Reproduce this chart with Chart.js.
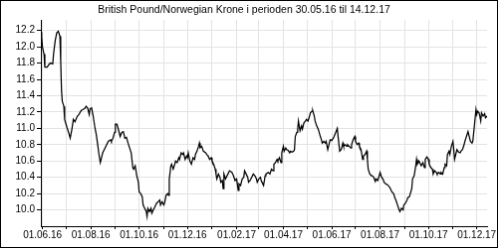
<!DOCTYPE html>
<html>
<head>
<meta charset="utf-8">
<script src="https://cdn.jsdelivr.net/npm/chart.js@4"></script>
<style>
	body{margin:0;background:#fff;}
	#chart{display:block;border:1px solid #000;}
</style>
</head>
<body>
<canvas id="chart" width="498" height="248"></canvas>
<script>
/*	GBP/NOK 30.05.16 - 14.12.17
*/

const title = "British Pound/Norwegian Krone i perioden 30.05.16 til 14.12.17",
	startDate = "30.05.16",
	endDate = "14.12.17";

//days after startDate
const days = [0,1,2,3,4,5,8,10,12,15,16,18,20,22,24,25,26,27,29,30,33,35,37,39,41,43,46,48,51,53,56,57,59,61,62,64,66,68,70,72,73,75,77,78,80,83,85,88,89,91,93,94,96,98,100,102,104,106,108,110,112,114,116,117,119,121,123,124,126,128,129,131,133,134,135,137,139,140,142,144,146,148,150,151,153,155,156,158,160,161,162,164,165,167,169,170,172,174,175,177,179,180,182,184,185,186,188,190,192,194,195,197,199,200,201,203,205,206,208,210,211,213,215,216,218,220,221,222,224,226,227,229,230,231,233,235,236,238,241,243,245,247,249,250,252,254,256,257,259,261,262,264,266,268,270,272,273,275,277,278,279,281,283,284,287,289,291,293,294,296,298,299,301,303,304,306,307,309,310,312,314,315,317,319,320,321,323,324,325,327,329,330,332,334,335,337,339,340,342,343,345,346,348,350,352,354,355,357,359,360,362,364,365,367,369,370,372,374,375,377,379,381,382,384,386,387,389,391,392,394,396,397,399,401,402,404,406,407,409,411,412,413,415,417,418,420,422,423,425,427,428,430,432,433,435,437,438,440,442,443,445,447,448,450,452,453,455,457,458,460,462,463,465,468,469,471,473,474,475,477,478,480,482,484,485,487,489,490,492,494,495,497,499,500,502,504,505,507,509,510,512,513,515,516,518,520,521,522,524,525,527,529,530,532,534,535,537,539,540,542,544,545,547,549,550,551,553,555,556,558,560,561,563];

const rates = [12.18,12.12,12.00,11.95,11.91,11.75,11.75,11.78,11.80,11.79,11.91,12.07,12.17,12.19,12.13,11.83,11.47,11.33,11.27,11.11,11.01,10.95,10.88,10.98,11.11,11.08,11.15,11.17,11.22,11.23,11.25,11.27,11.25,11.17,11.24,11.25,11.15,11.02,10.92,10.78,10.70,10.58,10.66,10.70,10.74,10.80,10.84,10.86,10.84,10.88,10.95,11.05,11.05,10.98,10.90,10.95,10.96,10.88,10.89,10.82,10.76,10.70,10.52,10.50,10.54,10.42,10.34,10.22,10.20,10.16,10.06,10.02,9.98,9.92,10.02,9.98,10.02,9.96,10.00,10.04,10.08,10.10,10.12,10.06,10.10,10.06,10.08,10.18,10.20,10.18,10.38,10.54,10.56,10.50,10.56,10.60,10.58,10.64,10.62,10.70,10.68,10.70,10.62,10.66,10.64,10.70,10.60,10.56,10.64,10.62,10.68,10.72,10.78,10.82,10.76,10.78,10.72,10.72,10.70,10.67,10.66,10.62,10.64,10.60,10.56,10.50,10.44,10.38,10.44,10.40,10.34,10.36,10.26,10.44,10.38,10.42,10.44,10.48,10.46,10.42,10.36,10.38,10.24,10.32,10.30,10.38,10.40,10.48,10.44,10.40,10.34,10.36,10.40,10.44,10.42,10.38,10.34,10.38,10.40,10.36,10.34,10.30,10.42,10.44,10.46,10.44,10.50,10.48,10.56,10.58,10.62,10.60,10.64,10.58,10.70,10.78,10.72,10.76,10.74,10.73,10.70,10.72,10.71,10.72,10.74,10.90,10.95,10.98,11.09,10.97,11.03,10.99,11.07,11.09,11.11,11.09,11.15,11.19,11.21,11.22,11.15,11.09,11.03,10.99,10.92,10.86,10.82,10.84,10.82,10.84,10.74,10.82,10.86,10.85,10.88,10.90,10.95,11.00,10.90,10.72,10.74,10.82,10.78,10.80,10.78,10.80,10.78,10.76,10.80,10.86,10.90,10.84,10.80,10.82,10.78,10.74,10.62,10.66,10.68,10.72,10.62,10.50,10.44,10.42,10.42,10.40,10.35,10.38,10.36,10.42,10.46,10.40,10.37,10.34,10.32,10.31,10.30,10.28,10.24,10.22,10.20,10.14,10.12,10.06,10.00,9.98,10.02,10.00,10.06,10.08,10.12,10.15,10.16,10.26,10.38,10.42,10.54,10.62,10.56,10.60,10.58,10.54,10.58,10.52,10.62,10.65,10.62,10.56,10.52,10.50,10.44,10.48,10.46,10.44,10.46,10.44,10.46,10.44,10.52,10.56,10.54,10.68,10.72,10.68,10.78,10.84,10.74,10.62,10.70,10.74,10.71,10.70,10.72,10.74,10.80,10.84,10.90,10.96,10.92,10.84,10.82,10.84,11.03,11.23,11.17,11.21,11.19,11.09,11.19,11.15,11.18,11.13,11.15];

//one grid line per month, label every second month
const xTicks = ["01.06.16","01.07.16","01.08.16","01.09.16","01.10.16","01.11.16","01.12.16","01.01.17","01.02.17","01.03.17","01.04.17","01.05.17","01.06.17","01.07.17","01.08.17","01.09.17","01.10.17","01.11.17","01.12.17"];
const yTicks = [10.0,10.2,10.4,10.6,10.8,11.0,11.2,11.4,11.6,11.8,12.0,12.2];

const dayNumber = function(str){
	let p = str.split(".");
	return Date.UTC(2000 + parseInt(p[2]), parseInt(p[1]) - 1, parseInt(p[0])) / 86400000;
};
const dayOffset = function(str){
	return dayNumber(str) - dayNumber(startDate);
};

let xTickDays = xTicks.map(dayOffset),
	points = days.map((d, i) => ({x: d, y: rates[i]})),
	gridColor = "#e3e3e3",
	font = {family: "'Liberation Sans', Arial, sans-serif", size: 10};

const ctx = document.querySelector("#chart").getContext("2d");
const chart = new Chart(ctx, {
	type: "line",
	data: {
		datasets: [{
			label: "GBP/NOK",
			data: points,
			borderColor: "#000",
			borderWidth: 1.25,
			pointRadius: 0,
			tension: 0,
			fill: false
		}]
	},
	options: {
		responsive: false,
		animation: false,
		layout: {padding: {left: 0, right: 10, top: 0, bottom: 0}},
		plugins: {
			legend: {display: false},
			tooltip: {enabled: false},
			title: {
				display: true,
				text: title,
				color: "#000",
				font: {family: font.family, size: 10.5, weight: "normal", lineHeight: "12px"},
				padding: {top: 3, bottom: 4}
			}
		},
		scales: {
			x: {
				type: "linear",
				min: 0,
				max: dayOffset(endDate),
				afterBuildTicks: (scale) => {scale.ticks = xTickDays.map(v => ({value: v}));},
				afterFit: (scale) => {scale.height = 21;},
				ticks: {
					autoSkip: false,
					maxRotation: 0,
					padding: 0,
					color: "#000",
					font: font,
					callback: (val, i) => (i % 2 == 0 ? xTicks[i] : "")
				},
				grid: {color: gridColor, tickColor: "#000", tickLength: 3},
				border: {color: "#000"}
			},
			y: {
				min: 9.8,
				max: 12.33,
				afterBuildTicks: (scale) => {scale.ticks = yTicks.map(v => ({value: v}));},
				afterFit: (scale) => {scale.width = 40;},
				ticks: {
					padding: 2,
					color: "#000",
					font: font,
					callback: (val) => val.toFixed(1)
				},
				grid: {color: gridColor, tickColor: "#000", tickLength: 4},
				border: {color: "#000"}
			}
		}
	}
});
</script>
</body>
</html>
